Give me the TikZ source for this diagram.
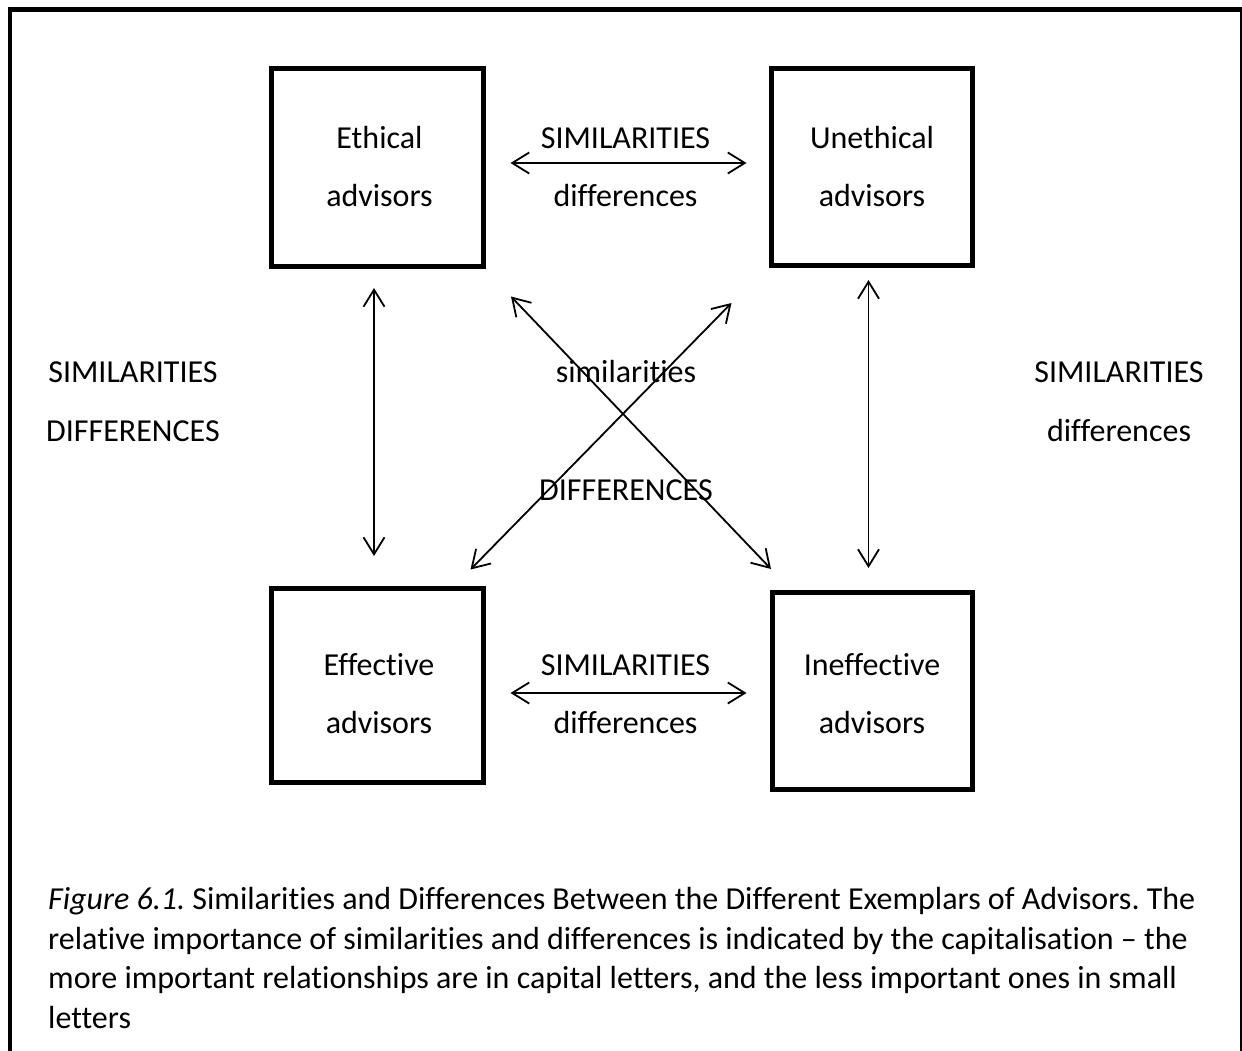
\documentclass[tikz,border=0pt]{standalone}
\usepackage{fontspec}
\setmainfont{Carlito}[Ligatures=NoCommon]
\usetikzlibrary{arrows.meta}
\frenchspacing
\tikzset{
  frameline/.style={line width=4.5pt},
  advbox/.style={draw, line width=5pt, rectangle, inner sep=0pt},
  txt/.style={anchor=base, inner sep=0pt, font=\fontsize{32}{39}\selectfont},
  dbl/.style={line width=1.8pt, {Straight Barb[length=17pt,width=21pt]}-{Straight Barb[length=17pt,width=21pt]}},
}
\begin{document}
\begin{tikzpicture}[x=1pt, y=-1pt]
\useasboundingbox (0,0) rectangle (1242,1050);

% open frame round the figure and caption
\coordinate (fbl) at (10,1052);
\coordinate (ftl) at (10,9.5);
\coordinate (ftr) at (1242,9.5);
\coordinate (fbr) at (1242,1052);
\draw[frameline] (fbl) -- (ftl) -- (ftr) -- (fbr);

% the four kinds of advisors
\node[advbox, minimum width=212pt, minimum height=198pt] (eth)   at (377.5,167.5) {};
\node[advbox, minimum width=201pt, minimum height=197pt] (uneth) at (872,167) {};
\node[advbox, minimum width=212pt, minimum height=194pt] (eff)   at (377.5,685.5) {};
\node[advbox, minimum width=200pt, minimum height=197pt] (ineff) at (872.5,691) {};

\node[txt] (ethA)   at (379.5,148) {Ethical};
\node[txt] (ethB)   at (379.5,206) {advisors};
\node[txt] (unethA) at (872,148) {Unethical};
\node[txt] (unethB) at (872,206) {advisors};
\node[txt] (effA)   at (379,675) {Effective};
\node[txt] (effB)   at (379,733) {advisors};
\node[txt] (ineffA) at (872,675) {Ineffective};
\node[txt] (ineffB) at (872,733) {advisors};

% relationship labels
\node[txt] (topS) at (625.5,148) {SIMILARITIES};
\node[txt] (topD) at (625.5,206) {differences};
\node[txt] (botS) at (625.5,675) {SIMILARITIES};
\node[txt] (botD) at (625.5,733) {differences};
\node[txt] (lefS) at (133,382) {SIMILARITIES};
\node[txt] (lefD) at (133,441) {DIFFERENCES};
\node[txt] (rigS) at (1119,382) {SIMILARITIES};
\node[txt] (rigD) at (1119,441) {differences};
\node[txt] (midS) at (626,382) {similarities};
\node[txt] (midD) at (626,500) {DIFFERENCES};

% arrow ends
\coordinate (a1) at (510.5,163);   \coordinate (a2) at (746.5,163);
\coordinate (b1) at (510.5,693);   \coordinate (b2) at (746.5,693);
\coordinate (c1) at (374,288);     \coordinate (c2) at (374,556);
\coordinate (d1) at (868.5,280);   \coordinate (d2) at (868.5,568);
\coordinate (e1) at (511,296.5);   \coordinate (e2) at (771,569);
\coordinate (f1) at (731.5,303);   \coordinate (f2) at (470.5,569.5);

\draw[dbl] (a1) -- (a2);
\draw[dbl] (b1) -- (b2);
\draw[dbl] (c1) -- (c2);
\draw[dbl] (d1) -- (d2);
\draw[dbl] (e1) -- (e2);
\draw[dbl] (f1) -- (f2);

% caption (the base anchor sits on the last line)
\node[anchor=base west, inner sep=0pt, align=left, font=\fontsize{32}{39.5}\selectfont] (cap) at (48,1028)
{\textit{Figure 6.1.} Similarities and Differences Between the Different Exemplars of Advisors. The\\
relative importance of similarities and differences is indicated by the capitalisation -- the\\
more important relationships are in capital letters, and the less important ones in small\\
letters};
\end{tikzpicture}
\end{document}
